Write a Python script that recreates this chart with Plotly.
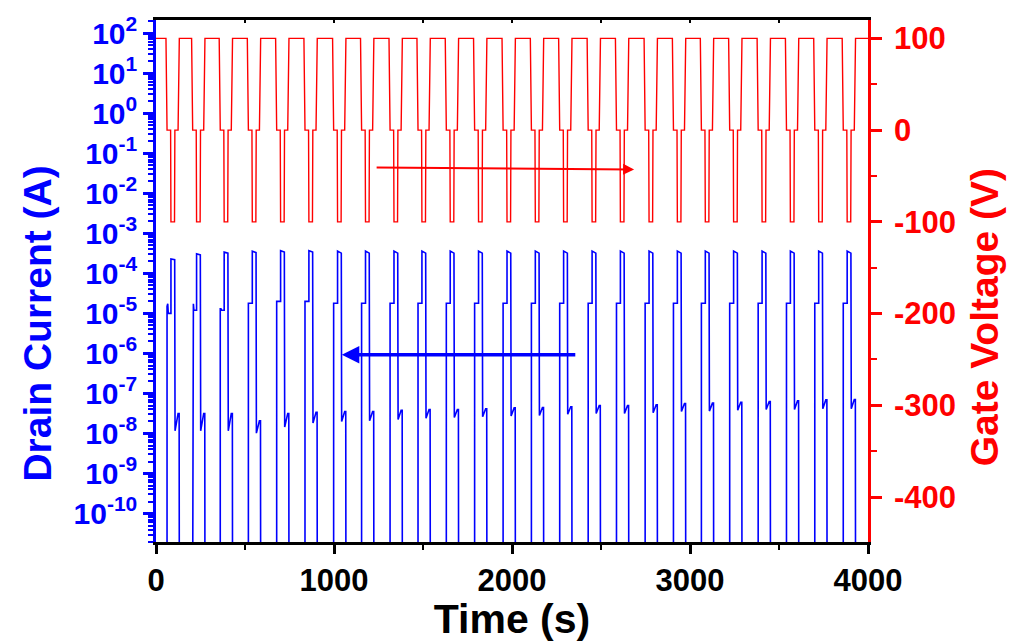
import plotly.graph_objects as go

# ---------------- data ----------------
# centre time (s) of each negative gate pulse
cycle_center_s = [94, 238, 393, 551, 710, 869, 1030, 1187, 1347, 1504, 1663, 1822, 1982,
                  2141, 2300, 2460, 2619, 2780, 2939, 3096, 3255, 3415, 3574, 3733, 3893]

# gate-voltage shape around each pulse centre: offset (s) and level (V)
gate_offsets_s = [-38, -32, -12, -10, 10, 12, 30, 37]
gate_levels_v = [100, 0, 0, -100, -100, 0, 0, 100]
gate_idle_v = 100
t_end_s = 4000

# drain current levels (A) for each cycle
i_pre_rise = [1.5e-5, 1.5e-5, 1.3e-5, 1.8e-5, 2.0e-5, 2.0e-5] + [1.8e-5] * 19
i_pre_peak = [1.75e-5, 1.75e-5, 1.3e-5, 1.8e-5, 2.0e-5, 2.0e-5] + [1.8e-5] * 19
i_pre_hold = [1.0e-5, 1.2e-5, 1.2e-5, 1.8e-5, 2.0e-5, 2.0e-5] + [1.8e-5] * 19
i_on_start = [2.3e-4, 3.1e-4, 3.4e-4, 3.6e-4, 3.7e-4, 3.7e-4] + [3.6e-4] * 19
i_on_end = [2.2e-4, 2.9e-4, 3.2e-4, 3.3e-4, 3.4e-4, 3.4e-4] + [3.2e-4] * 19
i_off_min = [1.17e-8, 1.17e-8, 1.17e-8, 1.02e-8, 1.45e-8, 1.82e-8, 2.0e-8, 2.09e-8, 2.24e-8,
             2.4e-8, 2.51e-8, 2.63e-8, 2.75e-8, 2.82e-8, 3.02e-8, 3.16e-8, 3.16e-8, 3.31e-8,
             3.55e-8, 3.63e-8, 3.8e-8, 3.98e-8, 3.98e-8, 4.17e-8, 4.17e-8]
i_off_bump = [3.16e-8, 3.16e-8, 3.16e-8, 2.09e-8, 3.16e-8, 3.39e-8, 3.55e-8, 3.55e-8, 3.8e-8,
              3.98e-8, 3.98e-8, 4.17e-8, 4.37e-8, 4.47e-8, 4.68e-8, 5.0e-8, 5.0e-8, 5.25e-8,
              5.62e-8, 5.75e-8, 6.03e-8, 6.31e-8, 6.61e-8, 6.92e-8, 7.08e-8]
i_floor = 1e-12  # transistor off: below the displayed range

# offsets (s) of the current features relative to each pulse centre
cur_offsets_s = [-32, -32, -28, -25, -10, -10, 11, 13, 30, 36, 37]

# axis tick labels
gate_ticks_v = [100, 0, -100, -200, -300, -400]
gate_tick_text = ["100", "0", "-100", "-200", "-300", "-400"]
current_decades = list(range(-10, 3))

# ---------------- build the traces ----------------
gate_t, gate_v = [0], [gate_idle_v]
for c in cycle_center_s:
    for o, v in zip(gate_offsets_s, gate_levels_v):
        gate_t.append(c + o)
        gate_v.append(v)
gate_t.append(t_end_s)
gate_v.append(gate_idle_v)

cur_t, cur_i = [0], [i_floor]
for k, c in enumerate(cycle_center_s):
    levels = [i_floor, i_pre_rise[k], i_pre_peak[k], i_pre_hold[k], i_pre_hold[k],
              i_on_start[k], i_on_end[k], i_off_min[k], i_off_bump[k], i_off_bump[k], i_floor]
    for o, v in zip(cur_offsets_s, levels):
        cur_t.append(c + o)
        cur_i.append(v)
cur_t.append(t_end_s)
cur_i.append(i_floor)

FONT = "Liberation Sans, Arial, sans-serif"
BLUE = "#0000FF"
RED = "#FF0000"

fig = go.Figure()
fig.add_trace(go.Scatter(x=cur_t, y=cur_i, mode="lines", line=dict(color=BLUE, width=1.6),
                         xaxis="x", yaxis="y", showlegend=False, hoverinfo="skip"))
fig.add_trace(go.Scatter(x=gate_t, y=gate_v, mode="lines", line=dict(color=RED, width=1.4),
                         xaxis="x2", yaxis="y2", showlegend=False, hoverinfo="skip"))

major_vals = [10.0 ** d for d in current_decades]
major_text = ["10<sup>%d</sup>" % d for d in current_decades]
minor_vals = [m * 10.0 ** d for d in range(-11, 3) for m in range(2, 10)]

fig.update_layout(
    width=1009, height=642,
    margin=dict(l=156, r=141, t=20, b=100, autoexpand=False),
    paper_bgcolor="white", plot_bgcolor="white",
    font=dict(family=FONT),
    xaxis=dict(
        range=[0, 4000], tickmode="linear", tick0=0, dtick=1000, automargin=False,
        ticks="outside", ticklen=9, tickwidth=2.5, tickcolor="black",
        minor=dict(ticks="outside", dtick=500, ticklen=5, tickwidth=2, tickcolor="black"),
        showline=True, linecolor="black", linewidth=2.5,
        showgrid=False, zeroline=False,
        tickfont=dict(family=FONT, size=31, color="black", weight="bold"),
        title=dict(text="Time (s)", font=dict(family=FONT, size=41, color="black", weight="bold"),
                   standoff=3),
    ),
    xaxis2=dict(
        range=[0, 4000], overlaying="x", side="top", anchor="y2", automargin=False,
        tickmode="linear", tick0=0, dtick=500,
        ticks="inside", ticklen=3, tickwidth=2, tickcolor="black",
        showline=True, linecolor="black", linewidth=2.5,
        showticklabels=False, showgrid=False, zeroline=False,
    ),
    yaxis=dict(
        type="log", range=[-10.71, 2.33], automargin=False,
        tickmode="array", tickvals=major_vals, ticktext=major_text,
        ticks="outside", ticklen=10, tickwidth=2.5, tickcolor=BLUE,
        minor=dict(tickmode="array", tickvals=minor_vals, ticks="outside", ticklen=5,
                   tickwidth=1.5, tickcolor=BLUE),
        showline=True, linecolor=BLUE, linewidth=2.5,
        showgrid=False, zeroline=False,
        tickfont=dict(family=FONT, size=30, color=BLUE, weight="bold"),
    ),
    yaxis2=dict(
        range=[-449, 120], overlaying="y", side="right", anchor="x2", automargin=False,
        tickmode="array", tickvals=gate_ticks_v, ticktext=gate_tick_text,
        ticks="outside", ticklen=11, tickwidth=2.5, tickcolor=RED,
        minor=dict(tickmode="array", tickvals=[50, -50, -150, -250, -350, -450], ticks="outside",
                   ticklen=6, tickwidth=2, tickcolor=RED),
        showline=True, linecolor=RED, linewidth=2.5,
        showgrid=False, zeroline=False, ticklabelstandoff=6,
        tickfont=dict(family=FONT, size=31, color=RED, weight="bold"),
    ),
    annotations=[
        dict(text="Drain Current (A)", textangle=-90, xref="paper", yref="paper",
             x=-0.166, y=0.418, xanchor="center", yanchor="middle", showarrow=False,
             font=dict(family=FONT, size=39, color=BLUE, weight="bold")),
        dict(text="Gate Voltage (V)", textangle=-90, xref="paper", yref="paper",
             x=1.164, y=0.43, xanchor="center", yanchor="middle", showarrow=False,
             font=dict(family=FONT, size=39, color=RED, weight="bold")),
        dict(x=2686, y=-42.9, ax=1231, ay=-40.7, xref="x2", yref="y2", axref="x2", ayref="y2",
             showarrow=True, arrowhead=2, arrowsize=1.1, arrowwidth=2, arrowcolor=RED, text=""),
        dict(x=1044, y=-6.03, ax=2364, ay=-6.03, xref="x", yref="y", axref="x", ayref="y",
             showarrow=True, arrowhead=2, arrowsize=1.0, arrowwidth=3.5, arrowcolor=BLUE, text=""),
    ],
)

fig.write_html("out.html", config={"displayModeBar": False},
               post_script="document.body.style.margin='0';document.body.style.overflow='hidden';")
